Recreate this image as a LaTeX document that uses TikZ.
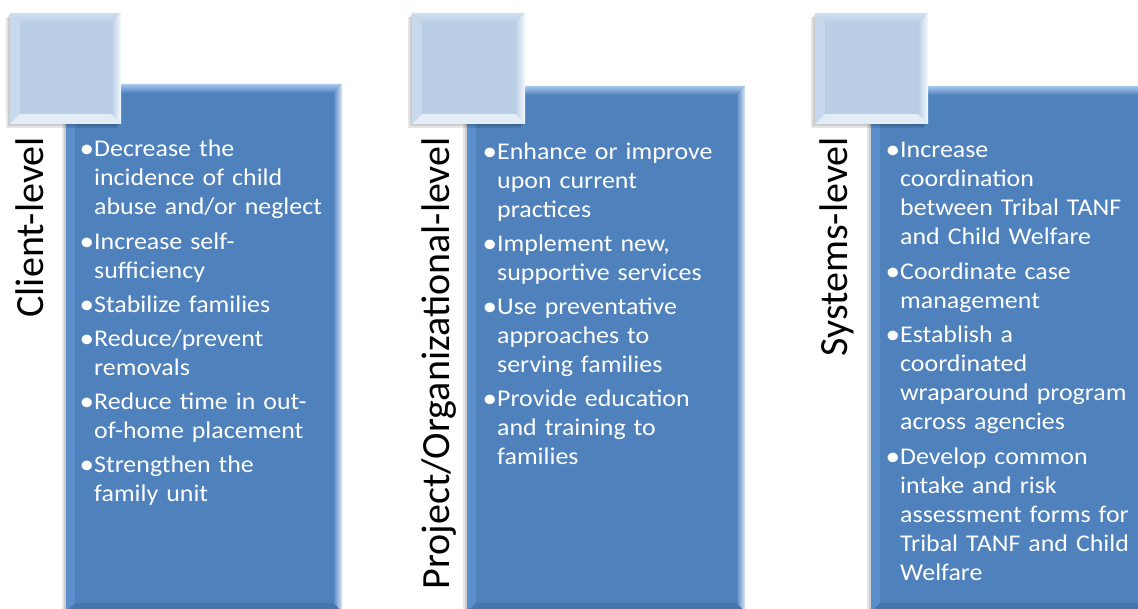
\documentclass[tikz,border=0pt]{standalone}
\usepackage{fontspec}
\setmainfont{Carlito}
\newfontfamily\listfont[FakeStretch=1.08]{Carlito}
\usepackage{tikz}
\usetikzlibrary{calc}

% colours of the two kinds of bevelled boxes
\definecolor{bx-base}{HTML}{4F81BD}
\definecolor{bx-top}{HTML}{A9C8EE}
\definecolor{bx-left}{HTML}{5A8ECD}
\definecolor{bx-right}{HTML}{D8E8F8}
\definecolor{bx-bot}{HTML}{4674AC}
\definecolor{sq-base}{HTML}{B9CDE5}
\definecolor{sq-top}{HTML}{D2E0F0}
\definecolor{sq-left}{HTML}{C8D9EE}
\definecolor{sq-right}{HTML}{F4F9FE}
\definecolor{sq-bot}{HTML}{E2EDF8}

% bevelled rectangle: #1 colour prefix, #2 bevel, (#3,#4) top left, (#5,#6) bottom right
\newcommand{\bevelrect}[6]{%
  \fill[black,opacity=.10] (#3-4,#4+4) rectangle (#5-4,#6+4);
  \fill[black,opacity=.10] (#3-2,#4+2) rectangle (#5-2,#6+2);
  \fill[#1-base] (#3,#4) rectangle (#5,#6);
  \shade[top color=#1-top, bottom color=#1-base] (#3,#4) -- (#5,#4) -- (#5-#2,#4+#2) -- (#3+#2,#4+#2) -- cycle;
  \fill[#1-left] (#3,#4) -- (#3+#2,#4+#2) -- (#3+#2,#6-#2) -- (#3,#6) -- cycle;
  \shade[left color=#1-base, right color=#1-right] (#5,#4) -- (#5,#6) -- (#5-#2,#6-#2) -- (#5-#2,#4+#2) -- cycle;
  \fill[#1-bot] (#3,#6) -- (#5,#6) -- (#5-#2,#6-#2) -- (#3+#2,#6-#2) -- cycle;
  \fill[#1-base] (#3+#2,#4+#2) rectangle (#5-#2,#6-#2);
}

% one bullet of a list, hanging after the bullet
\newcommand{\bul}{{\fontsize{27}{29}\selectfont\raisebox{-1pt}{\textbullet}}}
\newcommand{\itm}[1]{\par\hangindent=12.5pt\hangafter=1\noindent\strut\makebox[12.5pt][l]{\hspace{-2pt}\bul}#1\par}

\tikzset{
  lvllabel/.style={rotate=90, anchor=base east, inner sep=0pt, text=black,
    font=\fontsize{40}{48}\selectfont},
  lvllist/.style={anchor=north west, inner sep=0pt, text=white, text width=262pt,
    font=\listfont\fontsize{24}{29}\selectfont, align=left}
}

\begin{document}
\begin{tikzpicture}[x=1pt, y=-1pt]
\useasboundingbox (0,0) rectangle (1138,609);
\clip (0,0) rectangle (1138,609);
\fill[white] (0,0) rectangle (1138,609);

% client level
\bevelrect{bx}{9}{66}{84}{342}{612}
\bevelrect{sq}{10}{10}{13}{121}{124}
\node[lvllabel] (lab1) at (43,137) {Client-level};
\node[lvllist] (list1) at (81.5,122.5) {%
  \setlength{\parskip}{5.2pt}%
  \itm{Decrease the\newline incidence of child\newline abuse and/or neglect}
  \itm{Increase self-\newline sufficiency}
  \itm{Stabilize families}
  \itm{Reduce/prevent\newline removals}
  \itm{Reduce time in out-\newline of-home placement}
  \itm{Strengthen the\newline family unit}};

% project / organizational level
\bevelrect{bx}{9}{467}{86}{745}{612}
\bevelrect{sq}{10}{412}{13}{525}{124}
\node[lvllabel] (lab2) at (449,137) {Project/Organizational-level};
\node[lvllist] (list2) at (484.5,125) {%
  \setlength{\parskip}{5pt}%
  \itm{Enhance or improve\newline upon current\newline practices}
  \itm{Implement new,\newline supportive services}
  \itm{Use preventative\newline approaches to\newline serving families}
  \itm{Provide education\newline and training to\newline families}};

% systems level
\bevelrect{bx}{9}{871}{86}{1148}{612}
\bevelrect{sq}{10}{815}{13}{928}{124}
\node[lvllabel] (lab3) at (847,137) {Systems-level};
\node[lvllist] (list3) at (887.5,123) {%
  \setlength{\parskip}{5.5pt}%
  \itm{Increase\newline coordination\newline between Tribal TANF\newline and Child Welfare}
  \itm{Coordinate case\newline management}
  \itm{Establish a\newline coordinated\newline wraparound program\newline across agencies}
  \itm{Develop common\newline intake and risk\newline assessment forms for\newline Tribal TANF and Child\newline Welfare}};
\end{tikzpicture}
\end{document}
